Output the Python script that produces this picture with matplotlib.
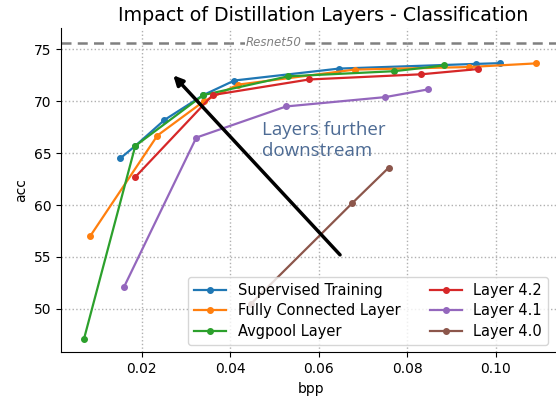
import matplotlib.pyplot as plt

# bpp / top-1 accuracy for each distillation setup
sup_bpp = [0.0151, 0.0185, 0.0251, 0.0339, 0.0409, 0.0646, 0.0955, 0.1009]
sup_acc = [64.5, 65.7, 68.2, 70.6, 72.0, 73.15, 73.6, 73.67]
fc_bpp = [0.0083, 0.0235, 0.0340, 0.0417, 0.0681, 0.0940, 0.1091]
fc_acc = [57.0, 66.7, 70.0, 71.6, 73.05, 73.3, 73.65]
avg_bpp = [0.0069, 0.0185, 0.0339, 0.0530, 0.0771, 0.0884]
avg_acc = [47.1, 65.7, 70.6, 72.4, 72.9, 73.45]
l42_bpp = [0.0185, 0.0360, 0.0578, 0.0832, 0.0959]
l42_acc = [62.7, 70.6, 72.1, 72.6, 73.1]
l41_bpp = [0.0160, 0.0323, 0.0526, 0.0750, 0.0848]
l41_acc = [52.15, 66.5, 69.5, 70.4, 71.15]
l40_bpp = [0.0447, 0.0676, 0.0758]
l40_acc = [50.5, 60.2, 63.6]

resnet50_acc = 75.64

series = [
    ("Supervised Training", sup_bpp, sup_acc),
    ("Fully Connected Layer", fc_bpp, fc_acc),
    ("Avgpool Layer", avg_bpp, avg_acc),
    ("Layer 4.2", l42_bpp, l42_acc),
    ("Layer 4.1", l41_bpp, l41_acc),
    ("Layer 4.0", l40_bpp, l40_acc),
]

fig = plt.figure(figsize=(5.56, 4.0), dpi=100)
ax = fig.add_axes([0.1097, 0.119, 0.898, 0.811])

for label, x, y in series:
    ax.plot(x, y, "o-", ms=4, lw=1.6, label=label)

ax.axhline(resnet50_acc, color="gray", ls="--", lw=1.8, dashes=(4, 2.5), zorder=1)
ax.text(0.0497, resnet50_acc, "Resnet50", color="gray", style="italic",
        fontsize=8.5, ha="center", va="center",
        bbox=dict(fc="white", ec="none", pad=0.3))

ax.annotate("", xy=(0.0271, 72.5), xytext=(0.0648, 55.2),
            arrowprops=dict(arrowstyle="-|>", color="black", lw=2.5,
                            mutation_scale=14, shrinkA=0, shrinkB=0))
ax.text(0.0471, 68.1, "Layers further\ndownstream", color="#4d6b94",
        fontsize=13.5, family="Open Sans", ha="left", va="top",
        linespacing=1.2)

ax.set_xlim(0.0017, 0.1146)
ax.set_ylim(45.8, 77.06)
ax.set_xticks([0.02, 0.04, 0.06, 0.08, 0.10])
ax.set_xticklabels(["0.02", "0.04", "0.06", "0.08", "0.10"])
ax.set_yticks([50, 55, 60, 65, 70, 75])
ax.tick_params(labelsize=10)
ax.grid(True, ls=":", color="#b0b0b0", lw=1)
ax.spines["top"].set_visible(False)
ax.spines["right"].set_visible(False)

ax.set_xlabel("bpp", fontsize=10)
ax.set_ylabel("acc", fontsize=10)
ax.set_title("Impact of Distillation Layers - Classification", fontsize=13.7,
             pad=5, x=0.526)
ax.legend(ncol=2, loc="lower right", fontsize=10.5, columnspacing=2.0,
          handlelength=2.2, labelspacing=0.4, bbox_to_anchor=(0.99, 0.0))

fig.savefig("out.png", dpi=100)
